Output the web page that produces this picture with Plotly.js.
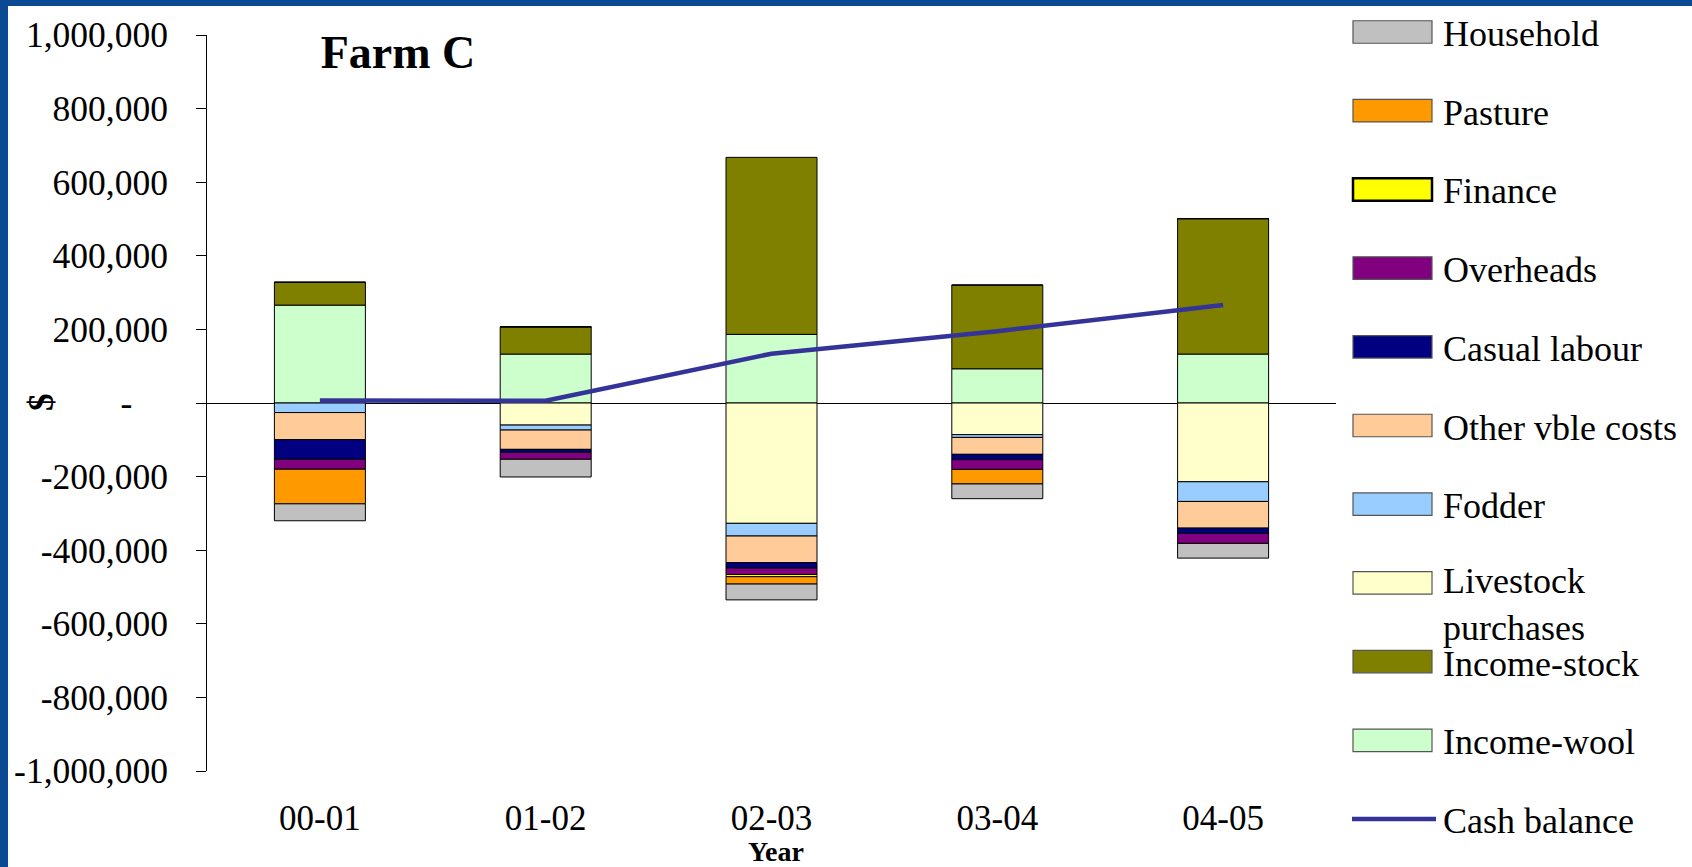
<!DOCTYPE html>
<html>
<head>
<meta charset="utf-8">
<script src="https://cdn.plot.ly/plotly-3.0.1.min.js"></script>
<style>
  html, body { margin: 0; padding: 0; background: #ffffff; overflow: hidden; }
  #chart { width: 1692px; height: 867px; position: absolute; left: 0; top: 0; }
  .frame-top { position: absolute; left: 0; top: 0; width: 1692px; height: 6px; background: #0B4A93; z-index: 5; }
  .frame-left { position: absolute; left: 0; top: 0; width: 8px; height: 867px; background: #0B4A93; z-index: 5; }
</style>
</head>
<body>
<div id="chart"></div>
<div class="frame-top"></div>
<div class="frame-left"></div>
<script>
// ---------- data ----------
const years = ['00-01', '01-02', '02-03', '03-04', '04-05'];

const incomeWool  = [266000, 133000, 186500, 93000, 133000];
const incomeStock = [62000, 74000, 481000, 227500, 368000];
const livestockPurchases = [0, -60000, -327000, -86000, -214000];
const fodder      = [-26000, -13500, -34500, -7500, -53500];
const otherVble   = [-73500, -52500, -72500, -46000, -72500];
const casualLabour = [-53500, -8000, -14500, -14500, -14500];
const overheads   = [-27000, -19000, -17500, -26500, -27000];
const finance     = [0, 0, -6000, 0, 0];
const pasture     = [-94000, 0, -20000, -39500, 0];
const household   = [-46000, -48000, -43000, -40000, -40000];
const cashBalance = [7000, 6000, 134000, 195000, 266000];

const seriesNames = ['Income-wool', 'Income-stock', 'Livestock purchases', 'Fodder',
  'Other vble costs', 'Casual labour', 'Overheads', 'Finance', 'Pasture', 'Household'];
const seriesValues = [incomeWool, incomeStock, livestockPurchases, fodder,
  otherVble, casualLabour, overheads, finance, pasture, household];
const seriesColors = ['#CCFFCC', '#808000', '#FFFFCC', '#99CCFF',
  '#FFCC99', '#000080', '#800080', '#FFFF00', '#FF9900', '#C0C0C0'];
const cashName = 'Cash balance';
const cashColor = '#333399';

const yTickVals = [-1000000, -800000, -600000, -400000, -200000, 0, 200000, 400000, 600000, 800000, 1000000];
const yTickText = ['-1,000,000', '-800,000', '-600,000', '-400,000', '-200,000', '-\u00a0\u00a0\u00a0\u00a0',
  '200,000', '400,000', '600,000', '800,000', '1,000,000'];

// ---------- geometry (pixels) ----------
const W = 1692, H = 867;
const M = { l: 207, r: 356, t: 35, b: 96 };
const PW = W - M.l - M.r, PH = H - M.t - M.b;
const px2x = px => (px - M.l) / PW;
const py2y = py => (H - M.b - py) / PH;

const FONT = "'Liberation Serif', 'Times New Roman', Times, serif";

// ---------- traces ----------
const traces = [];
seriesNames.forEach((name, i) => {
  traces.push({
    type: 'bar', name: name, x: years, y: seriesValues[i],
    marker: { color: seriesColors[i], line: { color: '#000000', width: 1 } },
    showlegend: false, hoverinfo: 'x+y+name'
  });
});
traces.push({
  type: 'scatter', mode: 'lines', name: cashName, x: years, y: cashBalance,
  line: { color: cashColor, width: 4.5 }, showlegend: false
});

// ---------- custom legend (built from series arrays) ----------
const legendNames = seriesNames.slice().reverse();
const legendColors = seriesColors.slice().reverse();
const shapes = [];
const annotations = [];
const legTop = 32, legStep = 78.7, symX0 = 1353, symX1 = 1432, symH = 22.5, textX = 1441;
const LEG_SIZE = 36;
legendNames.forEach((name, i) => {
  const cy = legTop + i * legStep;
  const isFin = name === 'Finance';
  shapes.push({
    type: 'rect', xref: 'paper', yref: 'paper',
    x0: px2x(symX0), x1: px2x(symX1), y0: py2y(cy - symH / 2), y1: py2y(cy + symH / 2),
    fillcolor: legendColors[i],
    line: { color: isFin ? '#000000' : '#555555', width: isFin ? 2.5 : 1.2 }
  });
  const multi = name === 'Livestock purchases';
  annotations.push({
    xref: 'paper', yref: 'paper', x: px2x(textX), xanchor: 'left',
    y: multi ? py2y(cy - 24) : py2y(cy + 2), yanchor: multi ? 'top' : 'middle',
    text: multi ? 'Livestock<br>purchases' : name, showarrow: false, align: 'left',
    font: { family: FONT, size: LEG_SIZE, color: '#000000' }
  });
});
{
  const cy = legTop + legendNames.length * legStep;
  shapes.push({
    type: 'line', xref: 'paper', yref: 'paper',
    x0: px2x(1352), x1: px2x(1436), y0: py2y(cy), y1: py2y(cy),
    line: { color: cashColor, width: 4.5 }
  });
  annotations.push({
    xref: 'paper', yref: 'paper', x: px2x(textX), xanchor: 'left',
    y: py2y(cy + 2), yanchor: 'middle', text: cashName, showarrow: false,
    font: { family: FONT, size: LEG_SIZE, color: '#000000' }
  });
}
// y-axis "$" label
annotations.push({
  xref: 'paper', yref: 'paper', x: px2x(41), y: py2y(402), xanchor: 'center', yanchor: 'middle',
  text: '<b>$</b>', textangle: -90, showarrow: false,
  font: { family: FONT, size: 35, color: '#000000' }
});
// x-axis "Year" label (sits tight under the tick labels, as in the original)
annotations.push({
  xref: 'paper', yref: 'paper', x: px2x(776), y: py2y(851), xanchor: 'center', yanchor: 'middle',
  text: '<b>Year</b>', showarrow: false,
  font: { family: FONT, size: 28, color: '#000000' }
});

const boundaryTicks = years.map((_, i) => i - 0.5).concat([years.length - 0.5]);

const layout = {
  width: W, height: H,
  margin: M,
  paper_bgcolor: '#ffffff', plot_bgcolor: '#ffffff',
  font: { family: FONT, size: 35, color: '#000000' },
  barmode: 'relative',
  bargap: 0.597,
  showlegend: false,
  title: {
    text: '<b>Farm C</b>', x: 398 / W, xanchor: 'center', y: 1 - 52 / H, yanchor: 'middle',
    font: { family: FONT, size: 46, color: '#000000' }
  },
  xaxis: {
    type: 'category', categoryorder: 'array', categoryarray: years,
    showline: false, showgrid: false, zeroline: false,
    ticks: '', ticklabelstandoff: 23,
    tickfont: { family: FONT, size: 35, color: '#000000' }
  },
  xaxis2: {
    overlaying: 'x', anchor: 'free', position: 0.5, type: 'linear',
    range: [-0.5, years.length - 0.5],
    tickmode: 'array', tickvals: boundaryTicks,
    ticks: 'outside', ticklen: 10, tickwidth: 1, tickcolor: '#000000',
    showticklabels: false, showline: false, showgrid: false, zeroline: false
  },
  yaxis: {
    range: [-1000000, 1000000],
    tickmode: 'array', tickvals: yTickVals, ticktext: yTickText,
    ticks: 'outside', ticklen: 10, tickwidth: 1, tickcolor: '#000000',
    ticklabelstandoff: 21,
    showline: true, linecolor: '#000000', linewidth: 1,
    showgrid: false, zeroline: true, zerolinecolor: '#000000', zerolinewidth: 1,
    tickfont: { family: FONT, size: 35.5, color: '#000000' }
  },
  shapes: shapes,
  annotations: annotations
};

Plotly.newPlot('chart', traces, layout, { staticPlot: true, displayModeBar: false });
</script>
</body>
</html>
